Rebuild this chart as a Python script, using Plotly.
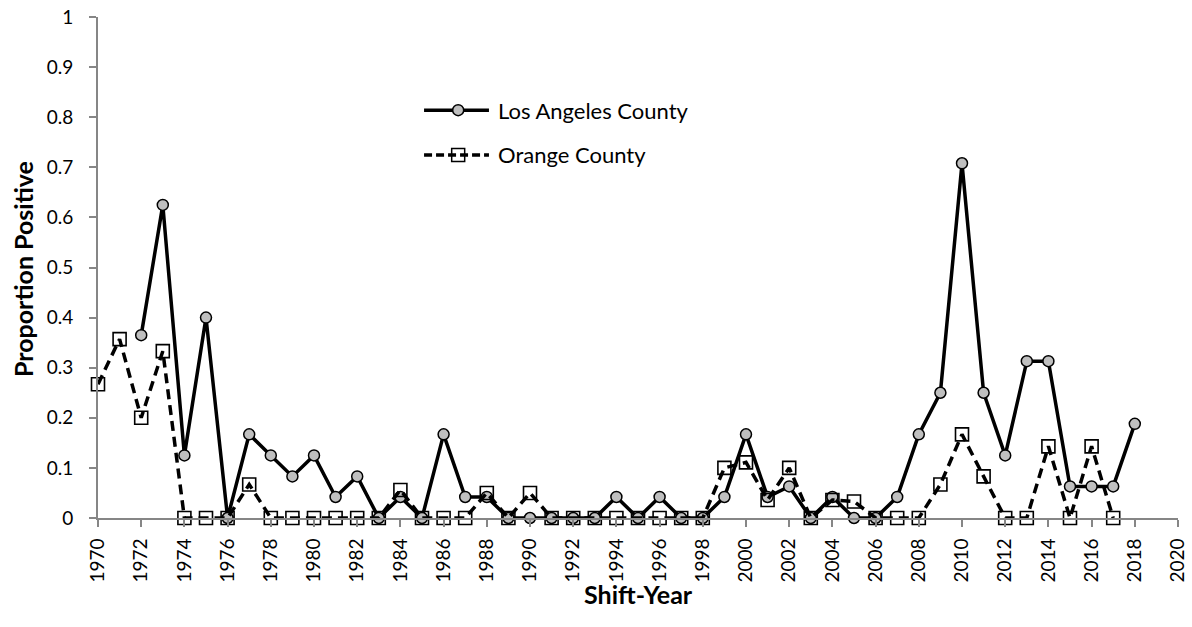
import plotly.graph_objects as go

years_la = list(range(1972, 2019))
la = [0.365, 0.625, 0.125, 0.4, 0, 0.167, 0.125, 0.083, 0.125, 0.042,
      0.083, 0, 0.042, 0, 0.167, 0.042, 0.042, 0, 0, 0,
      0, 0, 0.042, 0, 0.042, 0, 0, 0.042, 0.167, 0.042,
      0.063, 0, 0.042, 0, 0, 0.042, 0.167, 0.25, 0.708, 0.25,
      0.125, 0.313, 0.313, 0.063, 0.063, 0.063, 0.188]

years_oc = list(range(1970, 2018))
oc = [0.267, 0.357, 0.2, 0.333, 0, 0, 0, 0.067, 0, 0,
      0, 0, 0, 0, 0.056, 0, 0, 0, 0.05, 0,
      0.05, 0, 0, 0, 0, 0, 0, 0, 0, 0.1,
      0.111, 0.036, 0.1, 0, 0.036, 0.033, 0, 0, 0, 0.067,
      0.167, 0.083, 0, 0, 0.143, 0, 0.143, 0]

series_names = ["Los Angeles County", "Orange County"]
x_ticks = list(range(1970, 2021, 2))
y_ticks = [0, 0.1, 0.2, 0.3, 0.4, 0.5, 0.6, 0.7, 0.8, 0.9, 1]
y_labels = ["0", "0.1", "0.2", "0.3", "0.4", "0.5", "0.6", "0.7", "0.8", "0.9", "1"]
x_title = "Shift-Year"
y_title = "Proportion Positive"

FONT = "Lato"
DASH = "10px,6px"
AXIS_GREY = "#868686"

fig = go.Figure()
fig.add_trace(go.Scatter(
    x=years_la, y=la, name=series_names[0], mode="lines+markers",
    line=dict(color="black", width=3.5),
    marker=dict(symbol="circle", size=11, color="#BFBFBF",
                line=dict(color="black", width=1.5)),
    showlegend=False, cliponaxis=False,
))
fig.add_trace(go.Scatter(
    x=years_oc, y=oc, name=series_names[1], mode="lines+markers",
    line=dict(color="black", width=3.5, dash=DASH),
    marker=dict(symbol="square-open", size=13, color="black",
                line=dict(color="black", width=1.6)),
    showlegend=False, cliponaxis=False,
))

axis_common = dict(showline=True, linecolor=AXIS_GREY, linewidth=1.8,
                   ticks="outside", tickcolor=AXIS_GREY, ticklen=7, tickwidth=1.5,
                   showgrid=False, zeroline=False, automargin=False,
                   ticklabeloverflow="allow",
                   tickfont=dict(family=FONT, size=19, color="black"))

fig.update_xaxes(range=[1970, 2020], tickvals=x_ticks,
                 ticktext=[str(v) for v in x_ticks], tickangle=-90,
                 ticklabelstandoff=4, **axis_common)
fig.update_yaxes(range=[0, 1], tickvals=y_ticks, ticktext=y_labels,
                 ticklabelstandoff=12, **axis_common)

# axis titles
fig.add_annotation(text="<b>%s</b>" % x_title, xref="paper", yref="paper",
                   x=0.5, y=-0.152, xanchor="center", yanchor="middle",
                   showarrow=False, font=dict(family=FONT, size=25, color="black"))
fig.add_annotation(text="<b>%s</b>" % y_title, xref="paper", yref="paper",
                   x=-0.0694, y=0.497, xanchor="center", yanchor="middle",
                   textangle=-90, showarrow=False,
                   font=dict(family=FONT, size=25, color="black"))

# custom legend (long line samples as in the reference)
leg_x0, leg_x1, leg_xm, leg_xt = 0.3019, 0.362, 0.3335, 0.3685
leg_y = [0.814, 0.7246]
fig.add_shape(type="line", xref="paper", yref="paper", x0=leg_x0, x1=leg_x1,
              y0=leg_y[0], y1=leg_y[0], line=dict(color="black", width=3.5))
fig.add_shape(type="circle", xref="paper", yref="paper",
              xsizemode="pixel", ysizemode="pixel",
              xanchor=leg_xm, yanchor=leg_y[0], x0=-5.5, x1=5.5, y0=-5.5, y1=5.5,
              fillcolor="#BFBFBF", line=dict(color="black", width=1.5))
fig.add_shape(type="line", xref="paper", yref="paper", x0=leg_x0, x1=leg_x1,
              y0=leg_y[1], y1=leg_y[1], line=dict(color="black", width=3.5, dash="8px,4px"))
fig.add_shape(type="rect", xref="paper", yref="paper",
              xsizemode="pixel", ysizemode="pixel",
              xanchor=leg_xm, yanchor=leg_y[1], x0=-6.5, x1=6.5, y0=-6.5, y1=6.5,
              fillcolor="rgba(0,0,0,0)", line=dict(color="black", width=1.5))
for name, yy in zip(series_names, leg_y):
    fig.add_annotation(text=name, xref="paper", yref="paper", x=leg_xt, y=yy,
                       xanchor="left", yanchor="middle", showarrow=False,
                       font=dict(family=FONT, size=22, color="black"))

fig.update_layout(
    width=1192, height=627,
    margin=dict(l=98, r=14, t=17, b=109),
    plot_bgcolor="white", paper_bgcolor="white",
    font=dict(family=FONT, size=19, color="black"),
    showlegend=False,
)

# remove the default 8px page margin so the figure fills the window exactly
fig.write_html("out.html",
               config={"displayModeBar": False},
               post_script="document.body.style.margin='0';document.body.style.overflow='hidden';")
